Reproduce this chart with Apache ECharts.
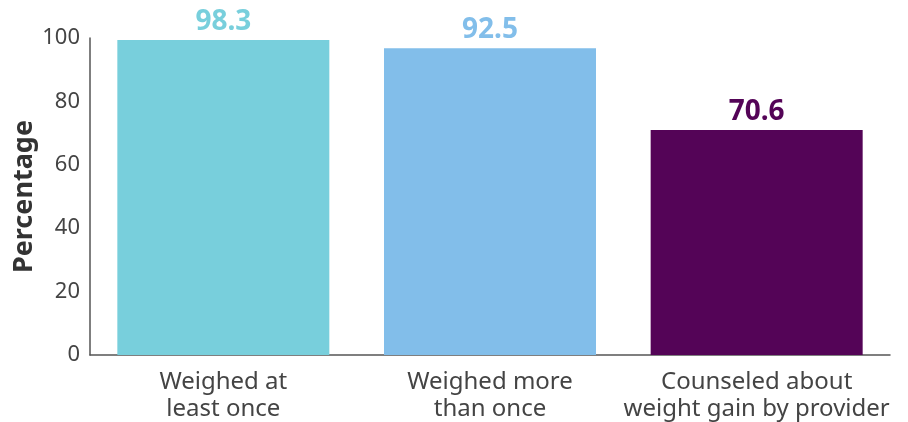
<!DOCTYPE html>
<html>
<head>
<meta charset="utf-8">
<script src="https://cdn.jsdelivr.net/npm/echarts@6/dist/echarts.min.js"></script>
<style>html,body{margin:0;padding:0;background:#fff}#c{width:908px;height:422px}</style>
</head>
<body>
<div id="c"></div>
<script>
var categories = ['Weighed at\nleast once', 'Weighed more\nthan once', 'Counseled about\nweight gain by provider'];
var barValues = [99.4, 96.8, 71.0];
var labelValues = ['98.3', '92.5', '70.6'];
var barColors = ['#78CFDC', '#82BEEA', '#540457'];
var yTicks = [0, 20, 40, 60, 80, 100];

var chart = echarts.init(document.getElementById('c'));
chart.setOption({
  animation: false,
  grid: {left: 90, right: 18, top: 38, bottom: 67, containLabel: false, outerBoundsMode: 'none'},
  xAxis: {
    type: 'category',
    data: categories,
    axisLine: {lineStyle: {color: '#555', width: 1.5}},
    axisTick: {show: false},
    axisLabel: {color: '#444', fontSize: 24, lineHeight: 27, margin: 14, fontFamily: 'Noto Sans', interval: 0}
  },
  yAxis: {
    type: 'value',
    min: yTicks[0], max: yTicks[yTicks.length - 1], interval: 20,
    name: 'Percentage',
    nameLocation: 'middle',
    nameGap: 52,
    nameMoveOverlap: false,
    nameTextStyle: {color: '#333', fontSize: 27, fontWeight: 'bold', fontFamily: 'Noto Sans'},
    axisLine: {show: true, lineStyle: {color: '#555', width: 1.5}},
    axisTick: {show: false},
    splitLine: {show: false},
    axisLabel: {color: '#444', fontSize: 22, margin: 10, fontFamily: 'Noto Sans'}
  },
  series: [{
    type: 'bar',
    barCategoryGap: '20.5%',
    data: barValues.map(function (v, i) {
      return {
        value: v,
        itemStyle: {color: barColors[i]},
        label: {
          show: true, position: 'top', distance: 4,
          formatter: labelValues[i],
          color: barColors[i], fontSize: 28, fontWeight: 'bold', fontFamily: 'Noto Sans'
        }
      };
    })
  }]
});
</script>
</body>
</html>
